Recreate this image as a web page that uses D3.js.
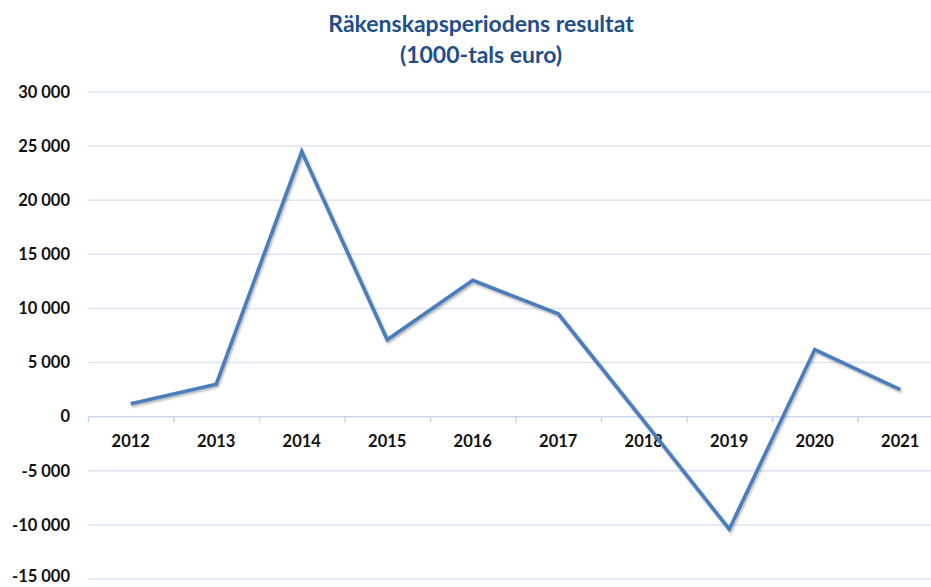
<!DOCTYPE html>
<html>
<head>
<meta charset="utf-8">
<script src="https://cdn.jsdelivr.net/npm/d3@7"></script>
<style>
  body{margin:0;background:#fff;}
  svg{display:block;font-family:Lato,"Open Sans",sans-serif;}
</style>
</head>
<body>
<svg id="chart"></svg>
<script>
var width=931;
var height=587;

// data (1000-tals euro)
var years=["2012","2013","2014","2015","2016","2017","2018","2019","2020","2021"];
var results=[1200,3000,24500,7100,12600,9500,-400,-10400,6200,2500];
var yTicks=[-15000,-10000,-5000,0,5000,10000,15000,20000,25000,30000];
var titleLines=["Räkenskapsperiodens resultat","(1000-tals euro)"];

var data=years.map(function(y,i){return {year:y,value:results[i]};});

var svg=d3.select("#chart")
  .attr("width",width)
  .attr("height",height);

var defs=svg.append("defs");
var f=defs.append("filter").attr("id","shadow")
  .attr("x","-10%").attr("y","-10%").attr("width","120%").attr("height","120%");
f.append("feDropShadow").attr("dx",1.2).attr("dy",1.8).attr("stdDeviation",1.3)
  .attr("flood-color","#000").attr("flood-opacity",0.3);

// band scale runs past the right edge, the reference is cropped there
var x=d3.scaleBand()
  .domain(years)
  .range([88,943]);

var y=d3.scaleLinear()
  .domain([-15000,30000])
  .range([579,92]);

var loc=d3.formatLocale({decimal:",",thousands:" ",grouping:[3],currency:["","€"],minus:"-"});
var fmt=loc.format(",d");

// title
svg.append("g")
  .selectAll("text")
  .data(titleLines)
  .join("text")
  .attr("x",481)
  .attr("y",(d,i)=>32+i*31)
  .attr("text-anchor","middle")
  .style("font-size","23px")
  .style("font-weight","bold")
  .style("fill","#1F4E89")
  .text(d=>d);

// gridlines
svg.append("g")
  .selectAll("line")
  .data(yTicks.filter(d=>d!==0))
  .join("line")
  .attr("x1",88)
  .attr("x2",width)
  .attr("y1",d=>y(d))
  .attr("y2",d=>y(d))
  .style("stroke","#DCE6F2")
  .style("stroke-width",1.5);

// y labels (lowest one nudged up a bit so it stays inside the frame)
svg.append("g")
  .selectAll("text")
  .data(yTicks)
  .join("text")
  .attr("x",70)
  .attr("y",d=>Math.min(y(d),576))
  .attr("dy","0.35em")
  .attr("text-anchor","end")
  .style("font-size","16.5px")
  .style("font-weight","bold")
  .style("fill","#111")
  .text(d=>fmt(d));

// zero axis with category ticks
var xAxis=svg.append("g")
  .attr("transform","translate(0,"+y(0)+")");
xAxis.append("line")
  .attr("x1",88).attr("x2",width)
  .style("stroke","#C9D8EC")
  .style("stroke-width",1.5);
xAxis.selectAll(".tk")
  .data(years)
  .join("line")
  .attr("class","tk")
  .attr("x1",d=>x(d)+0.5)
  .attr("x2",d=>x(d)+0.5)
  .attr("y1",0)
  .attr("y2",6)
  .style("stroke","#C9D8EC")
  .style("stroke-width",1.5);
xAxis.selectAll("text")
  .data(years)
  .join("text")
  .attr("x",d=>x(d)+x.bandwidth()/2)
  .attr("y",25)
  .attr("dy","0.35em")
  .attr("text-anchor","middle")
  .style("font-size","16.5px")
  .style("font-weight","bold")
  .style("fill","#111")
  .text(d=>d);

// the line
var line=d3.line()
  .x(d=>x(d.year)+x.bandwidth()/2)
  .y(d=>y(d.value));

svg.append("path")
  .datum(data)
  .attr("d",line)
  .attr("filter","url(#shadow)")
  .style("fill","none")
  .style("stroke","#4A7EBB")
  .style("stroke-width",3.6)
  .style("stroke-linejoin","miter");
</script>
</body>
</html>
